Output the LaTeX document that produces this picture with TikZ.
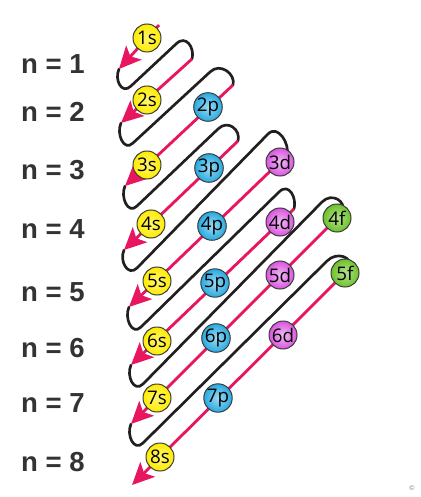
\documentclass[tikz,border=0pt]{standalone}
\usepackage{fontspec}
\setmainfont{Liberation Sans}
\newfontfamily\orbfont{Open Sans}
\usetikzlibrary{arrows.meta}

\definecolor{flowred}{RGB}{232,22,96}
\definecolor{wireblack}{RGB}{35,31,32}
\definecolor{orbline}{RGB}{60,60,60}
\definecolor{orbyellow}{RGB}{255,236,0}
\definecolor{orbblue}{RGB}{38,170,225}
\definecolor{orbpink}{RGB}{218,84,224}
\definecolor{orbgreen}{RGB}{108,194,40}
\definecolor{labelgray}{RGB}{51,51,51}

\begin{document}
\begin{tikzpicture}[x=0.3mm,y=-0.3mm]
		\tikzstyle{wire} = [draw=wireblack,line width=0.8mm,line cap=round]
		\tikzstyle{flow} = [draw=flowred,line width=0.85mm,-{Stealth[length=6.6mm,width=6.2mm,inset=1.5mm]}]
		\tikzstyle{orb} = [circle,draw=orbline,line width=0.3mm,minimum size=8.4mm,inner sep=0pt,font=\orbfont\fontsize{16}{17}\selectfont,text=black]
		\tikzstyle{sorb} = [orb,inner color=orbyellow!55!white,outer color=orbyellow]
		\tikzstyle{porb} = [orb,inner color=orbblue!45!white,outer color=orbblue]
		\tikzstyle{dorb} = [orb,inner color=orbpink!40!white,outer color=orbpink]
		\tikzstyle{forb} = [orb,inner color=orbgreen!50!white,outer color=orbgreen]
		\tikzstyle{level} = [font=\fontsize{23.5}{27}\selectfont\bfseries,text=labelgray]
		
		\useasboundingbox (0,0) rectangle (421,497);
		
		\coordinate (top1) at (159,25);
		\coordinate (tip1) at (119,69);
		\coordinate (top2) at (192,59);
		\coordinate (tip2) at (121,123);
		\coordinate (top3) at (233,85);
		\coordinate (tip3) at (125,186);
		\coordinate (top4) at (238,141);
		\coordinate (tip4) at (124,250);
		\coordinate (top5) at (287,155);
		\coordinate (tip5) at (129,307);
		\coordinate (top6) at (294,209);
		\coordinate (tip6) at (131,365);
		\coordinate (top7) at (343,212);
		\coordinate (tip7) at (131,424);
		\coordinate (top8) at (350,268);
		\coordinate (tip8) at (132,485);
		
		\coordinate (b1) at (131,86);
		\coordinate (a1) at (176,44);
		\coordinate (b2) at (133,143);
		\coordinate (a2) at (210,72);
		\coordinate (b3) at (137,206);
		\coordinate (a3) at (218,129);
		\coordinate (b4) at (137,268);
		\coordinate (a4) at (268,134);
		\coordinate (b5) at (141,327);
		\coordinate (a5) at (279,192);
		\coordinate (b6) at (143,384);
		\coordinate (a6) at (322,202);
		\coordinate (b7) at (143,443);
		\coordinate (a7) at (327,261);
		
		\draw[wire] (tip1) .. controls +(-5,11) and +(-9,9) .. (b1) -- (a1) .. controls +(10,-10) and +(3,-11) .. (top2);
		\draw[wire] (tip2) .. controls +(-5,11) and +(-9,9) .. (b2) -- (a2) .. controls +(10,-10) and +(3,-11) .. (top3);
		\draw[wire] (tip3) .. controls +(-5,11) and +(-9,9) .. (b3) -- (a3) .. controls +(10,-10) and +(3,-11) .. (top4);
		\draw[wire] (tip4) .. controls +(-5,11) and +(-9,9) .. (b4) -- (a4) .. controls +(10,-10) and +(3,-11) .. (top5);
		\draw[wire] (tip5) .. controls +(-5,11) and +(-9,9) .. (b5) -- (a5) .. controls +(10,-10) and +(3,-11) .. (top6);
		\draw[wire] (tip6) .. controls +(-5,11) and +(-9,9) .. (b6) -- (a6) .. controls +(10,-10) and +(3,-11) .. (top7);
		\draw[wire] (tip7) .. controls +(-5,11) and +(-9,9) .. (b7) -- (a7) .. controls +(10,-10) and +(3,-11) .. (top8);
		
		\draw[flow] (top1) -- (tip1);
		\draw[flow] (top2) -- (tip2);
		\draw[flow] (top3) -- (tip3);
		\draw[flow] (top4) -- (tip4);
		\draw[flow] (top5) -- (tip5);
		\draw[flow] (top6) -- (tip6);
		\draw[flow] (top7) -- (tip7);
		\draw[flow] (top8) -- (tip8);
		
		\node[sorb] (s1) at (147,38) {1s};
		\node[sorb] (s2) at (147,100) {2s};
		\node[porb] (p2) at (208,107) {2p};
		\node[sorb] (s3) at (147,165) {3s};
		\node[porb] (p3) at (209,168) {3p};
		\node[dorb] (d3) at (280,162) {3d};
		\node[sorb] (s4) at (151,224) {4s};
		\node[porb] (p4) at (212,226) {4p};
		\node[dorb] (d4) at (280,222) {4d};
		\node[forb] (f4) at (337,218) {4f};
		\node[sorb] (s5) at (157,281) {5s};
		\node[porb] (p5) at (215,283) {5p};
		\node[dorb] (d5) at (280,275) {5d};
		\node[forb] (f5) at (345,273) {5f};
		\node[sorb] (s6) at (157,341) {6s};
		\node[porb] (p6) at (216,338) {6p};
		\node[dorb] (d6) at (283,335) {6d};
		\node[sorb] (s7) at (157,398) {7s};
		\node[porb] (p7) at (218,398) {7p};
		\node[sorb] (s8) at (160,457) {8s};
		
		\node[level] (n1) at (53,64) {n = 1};
		\node[level] (n2) at (53,112) {n = 2};
		\node[level] (n3) at (53,170) {n = 3};
		\node[level] (n4) at (53,229) {n = 4};
		\node[level] (n5) at (53,292) {n = 5};
		\node[level] (n6) at (53,348) {n = 6};
		\node[level] (n7) at (53,403) {n = 7};
		\node[level] (n8) at (53,462) {n = 8};
		
		\node[font=\fontsize{6}{7}\selectfont,text=gray] (copy) at (412,488) {\textcopyright};
	\end{tikzpicture}
\end{document}
